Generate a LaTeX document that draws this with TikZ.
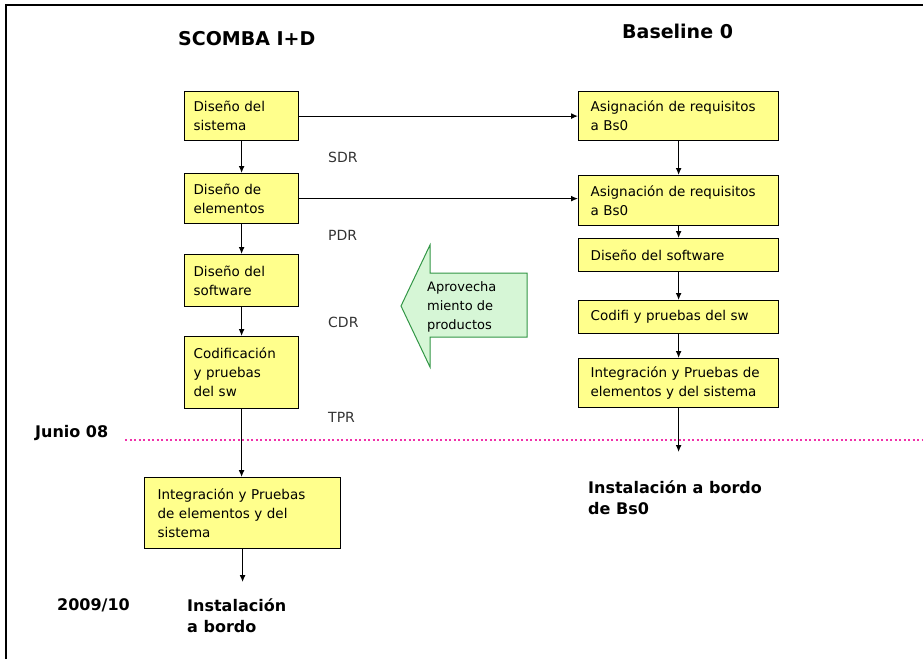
\documentclass[tikz,border=0pt]{standalone}
\usepackage{fontspec}
\setmainfont{DejaVu Sans}
\usetikzlibrary{calc, arrows.meta}

\definecolor{boxyellow}{RGB}{255,255,140}
\definecolor{arrowgreen}{RGB}{214,246,214}
\definecolor{edgegreen}{RGB}{50,150,70}
\definecolor{milestone}{RGB}{240,50,170}

\tikzset{
  fase/.style={draw=black, line width=1.2pt, fill=boxyellow, anchor=north west,
    align=left, inner ysep=0pt, font=\fontsize{13.5}{19}\selectfont},
  izq/.style={fase, inner xsep=9pt, minimum width=114pt, text width=96pt},
  der/.style={fase, inner xsep=12pt, minimum width=200pt, text width=176pt},
  hito/.style={anchor=base west, inner sep=0pt, text=black!80, font=\fontsize{14}{16}\selectfont},
  titulo/.style={anchor=base west, inner sep=0pt, font=\fontsize{19}{22}\selectfont\bfseries},
  rotulo/.style={inner sep=0pt, align=left, font=\fontsize{16}{21}\selectfont\bfseries},
  flecha/.style={-{Latex[length=7pt,width=6pt]}, line width=1.2pt},
}

\begin{document}
\begin{tikzpicture}[x=1pt,y=-1pt]
	\useasboundingbox (0,0) rectangle (923,659);
	\draw[line width=2pt] (6,659) -- (6,5) -- (923,5);

	\node[titulo] (tscomba) at (178,45) {SCOMBA I+D};
	\node[titulo] (tbase) at (622,38) {Baseline 0};

	% SCOMBA I+D
	\node[izq, minimum height=49pt] (sis) at (184,91) {Diseño del\\sistema};
	\node[izq, minimum height=50pt] (elem) at (184,173) {Diseño de\\elementos};
	\node[izq, minimum height=52pt] (soft) at (184,254) {Diseño del\\software};
	\node[izq, minimum height=72pt] (cod) at (184,336) {Codificación\\y pruebas\\del sw};
	\node[fase, inner xsep=13pt, minimum width=196pt, text width=170pt, minimum height=71pt] (integ) at (144,477)
		{Integración y Pruebas\\de elementos y del\\sistema};

	% Baseline 0
	\node[der, minimum height=49pt] (asig) at (578,91) {Asignación de requisitos\\a Bs0};
	\node[der, minimum height=50pt] (asigb) at (578,175) {Asignación de requisitos\\a Bs0};
	\node[der, minimum height=33pt] (softb) at (578,238) {Diseño del software};
	\node[der, minimum height=33pt] (codb) at (578,300) {Codifi y pruebas del sw};
	\node[der, minimum height=49pt] (integb) at (578,358) {Integración y Pruebas de\\elementos y del sistema};

	\draw[flecha] (sis) -- (elem);
	\draw[flecha] (elem) -- (soft);
	\draw[flecha] (soft) -- (cod);
	\draw[flecha] (cod.south) -- (cod.south |- integ.north);
	\draw[flecha] (asig) -- (asigb);
	\draw[flecha] (asigb) -- (softb);
	\draw[flecha] (softb) -- (codb);
	\draw[flecha] (codb) -- (integb);
	\draw[flecha] (sis.east) -- (sis.east -| asig.west);
	\draw[flecha] (elem.east) -- (elem.east -| asigb.west);

	\node[hito] (sdr) at (328,162) {SDR};
	\node[hito] (pdr) at (328,240) {PDR};
	\node[hito] (cdr) at (328,327) {CDR};
	\node[hito] (tpr) at (328,422) {TPR};

	% junio 08
	\node[rotulo, anchor=base west] (junio) at (35,437) {Junio 08};
	\coordinate (lini) at (125,440);
	\coordinate (linf) at (923,440);
	\draw[milestone, line width=2.2pt, dash pattern=on 2pt off 2.5pt] (lini) -- (linf);

	% aprovechamiento
	\draw[edgegreen, fill=arrowgreen, line width=1pt]
		(401,306) -- (430,245) -- (430,273) -- (527,273) -- (527,337) -- (430,337) -- (430,367) -- cycle;
	\node[anchor=west, align=left, inner sep=0pt, font=\fontsize{13}{19}\selectfont] (aprov) at (427,307)
		{Aprovecha\\miento de\\productos};

	% instalacion
	\coordinate (finb) at (678,452);
	\draw[flecha] (integb.south) -- (integb.south |- finb);
	\node[rotulo, anchor=north west] (instb) at (588,480) {Instalación a bordo\\de Bs0};

	\coordinate (fini) at (242,582);
	\draw[flecha] (integ.south) -- (integ.south |- fini);
	\node[rotulo, anchor=north west] (insti) at (187,598) {Instalación\\a bordo};
	\node[rotulo, anchor=base west] (anio) at (57,610) {2009/10};
\end{tikzpicture}
\end{document}
